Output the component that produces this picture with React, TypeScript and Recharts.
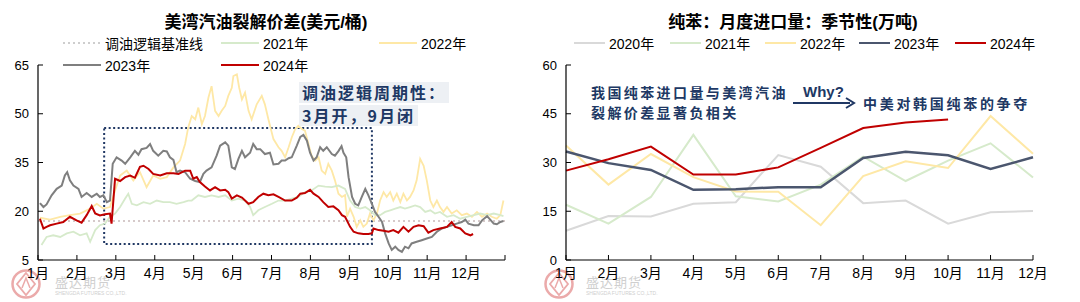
import React from 'react';
import { LineChart, Line, XAxis, YAxis, ReferenceLine, ReferenceArea } from 'recharts';

// ---------- Left chart: US Gulf gasoline crack spread (USD/bbl), x = month index ----------
const monthLabels = ['1月', '2月', '3月', '4月', '5月', '6月', '7月', '8月', '9月', '10月', '11月', '12月'];
const spreadTicksY = [5, 20, 35, 50, 65];
const baselineValue = 17;
const boxRange = { m1: 1.7, m2: 8.58, v1: 9.9, v2: 45.6 };

const spread2021: [number, number][] = [
  [0.09, 9.6], [0.22, 12.1], [0.39, 12.6], [0.57, 12.1], [0.74, 13.2], [0.91, 13.7], [1.08, 12.6], [1.25, 13.2],
  [1.34, 10.6], [1.47, 14.2], [1.59, 15.7], [1.72, 16.2], [1.85, 18.3], [1.98, 19.3], [2.11, 21.3], [2.24, 23.9],
  [2.32, 25.4], [2.41, 22.3], [2.54, 21.8], [2.71, 22.8], [2.88, 22.3], [3.05, 23.3], [3.22, 22.8], [3.39, 22.8],
  [3.56, 22.3], [3.74, 22.8], [3.86, 23.3], [3.95, 23.3], [4.12, 24.9], [4.29, 24.4], [4.46, 24.9], [4.64, 24.4],
  [4.81, 24.9], [4.98, 23.3], [5.15, 23.9], [5.32, 23.3], [5.45, 21.3], [5.53, 18.8], [5.66, 20.3], [5.83, 21.3],
  [6.01, 22.3], [6.18, 23.3], [6.35, 23.3], [6.52, 23.9], [6.69, 24.4], [6.86, 25.9], [7.03, 26.4], [7.21, 27.9],
  [7.38, 27.6], [7.55, 27.4], [7.72, 27.9], [7.89, 26.9], [8.02, 23.3], [8.15, 21.3], [8.28, 20.8], [8.41, 21.3],
  [8.53, 20.3], [8.66, 18.8], [8.79, 18.8], [8.92, 19.8], [9.05, 20.3], [9.18, 20.8], [9.31, 21.3], [9.43, 20.8],
  [9.56, 21.3], [9.69, 21.8], [9.82, 21.3], [9.95, 19.8], [10.08, 20.3], [10.2, 19.3], [10.33, 19.8], [10.51, 18.3],
  [10.68, 18.8], [10.85, 17.7], [11.02, 18.3], [11.2, 18.8], [11.36, 19.3], [11.54, 18.8], [11.71, 19.3], [11.88, 18.8],
  [11.96, 18.5],
];

const spread2022: [number, number][] = [
  [0.05, 18], [0.31, 17.4], [0.57, 18.3], [0.82, 18.8], [1.08, 19.3], [1.34, 20.8], [1.51, 22.3], [1.68, 20.8],
  [1.85, 21.3], [1.98, 26.4], [2.11, 31], [2.28, 32.5], [2.45, 29.5], [2.62, 32], [2.79, 27.4], [2.96, 31],
  [3.14, 30], [3.31, 30.5], [3.48, 33.5], [3.65, 35.6], [3.78, 40.7], [3.86, 45.8], [3.95, 49.3], [4.04, 48.3],
  [4.12, 51.9], [4.21, 46.8], [4.29, 49.3], [4.38, 55], [4.46, 58.5], [4.55, 50.9], [4.64, 49.3], [4.72, 50.9],
  [4.81, 52.4], [4.89, 55.5], [4.98, 58], [5.02, 61.6], [5.11, 62.1], [5.17, 58], [5.24, 54.4], [5.32, 56.5],
  [5.41, 50.9], [5.49, 48.3], [5.62, 52.9], [5.75, 55.5], [5.83, 52.9], [5.92, 48.3], [6.05, 42.2], [6.18, 39.7],
  [6.26, 38.6], [6.35, 36.6], [6.44, 39.7], [6.52, 42.7], [6.61, 45.3], [6.69, 46.3], [6.78, 45.3], [6.86, 44.8],
  [6.95, 40.7], [7.03, 37.1], [7.12, 35.6], [7.21, 36.6], [7.29, 32.5], [7.38, 31.5], [7.46, 34.6], [7.55, 32.5],
  [7.63, 29.5], [7.72, 25.4], [7.81, 24.4], [7.89, 25], [7.94, 18.3], [8.02, 20.8], [8.11, 18.3], [8.19, 15.2],
  [8.28, 17.2], [8.36, 15.2], [8.45, 16.2], [8.53, 19.3], [8.62, 17.2], [8.71, 19.3], [8.79, 23.3], [8.88, 25.9],
  [8.96, 24.4], [9.05, 25.9], [9.13, 23.3], [9.22, 25.4], [9.31, 22.8], [9.39, 25.4], [9.48, 23.3], [9.56, 24.4],
  [9.65, 26.4], [9.73, 29.5], [9.82, 36.1], [9.91, 34], [9.99, 29.5], [10.08, 23.3], [10.16, 21.3], [10.25, 23.3],
  [10.33, 21.3], [10.42, 19.8], [10.51, 21.3], [10.63, 19.3], [10.76, 20.3], [10.89, 18.8], [11.02, 19.3], [11.15, 18.3],
  [11.28, 19.8], [11.41, 18.3], [11.54, 19.3], [11.66, 18.3], [11.79, 17.7], [11.88, 18.8], [11.96, 23.3],
];

const spread2023: [number, number][] = [
  [0.05, 22.5], [0.14, 21.3], [0.22, 22.1], [0.35, 24.9], [0.48, 26.9], [0.61, 27.9], [0.69, 31], [0.75, 32],
  [0.82, 29.5], [0.91, 27.9], [1.04, 26.9], [1.12, 24.4], [1.25, 25.6], [1.38, 24.4], [1.51, 25.4], [1.59, 24.4],
  [1.68, 24.9], [1.77, 22.8], [1.85, 23.3], [1.92, 34.6], [2.02, 36.6], [2.15, 35.6], [2.24, 34.6], [2.37, 36.6],
  [2.49, 38.6], [2.58, 37.4], [2.66, 39.1], [2.79, 39.5], [2.88, 40.7], [2.96, 38.6], [3.09, 37.1], [3.22, 38.6],
  [3.31, 38.4], [3.39, 36.6], [3.48, 35.8], [3.56, 32], [3.65, 32.5], [3.78, 32], [3.91, 30], [4.04, 29.3],
  [4.16, 29], [4.25, 31.5], [4.33, 32.5], [4.46, 33.5], [4.59, 37.1], [4.68, 40.2], [4.81, 41.2], [4.89, 40.2],
  [4.98, 33.5], [5.06, 33], [5.15, 36.1], [5.24, 38.6], [5.32, 36.6], [5.45, 38], [5.53, 40.7], [5.62, 39.1],
  [5.71, 39.1], [5.83, 37.6], [5.96, 38], [6.05, 34.4], [6.18, 34.6], [6.26, 35.6], [6.35, 35.6], [6.44, 36.3],
  [6.52, 36.6], [6.65, 40.2], [6.74, 42.9], [6.82, 43.5], [6.91, 41.7], [6.99, 38], [7.08, 35.6], [7.16, 36.6],
  [7.25, 39.7], [7.33, 38.6], [7.42, 39.7], [7.55, 37.6], [7.63, 37.1], [7.72, 38.5], [7.8, 40], [7.85, 38],
  [7.92, 36.6], [7.98, 30.5], [8.07, 24.4], [8.15, 22.3], [8.23, 21.8], [8.32, 24.4], [8.41, 26.9], [8.49, 24.9],
  [8.58, 22.3], [8.66, 19.8], [8.75, 18.3], [8.84, 16.7], [8.92, 13.2], [9.01, 10.1], [9.09, 8.1], [9.18, 9.1],
  [9.26, 8.1], [9.35, 7.5], [9.43, 9.1], [9.52, 8.6], [9.6, 10.1], [9.73, 10.6], [9.86, 11.1], [9.99, 11.6],
  [10.12, 12.1], [10.25, 13.7], [10.38, 14.7], [10.51, 15.2], [10.63, 15.7], [10.76, 16.2], [10.89, 16.7], [10.98, 17.4],
  [11.06, 16.2], [11.2, 15.7], [11.32, 15.7], [11.41, 17.2], [11.54, 18.5], [11.62, 17.4], [11.71, 16.2], [11.79, 16],
  [11.88, 16.7], [11.96, 17],
];

const spread2024: [number, number][] = [
  [0.05, 17.7], [0.14, 14.7], [0.22, 15.2], [0.31, 15.7], [0.48, 16.2], [0.65, 16.7], [0.82, 18.3], [0.99, 17.2],
  [1.12, 16.5], [1.25, 18.8], [1.38, 21.6], [1.47, 19.3], [1.59, 18.7], [1.72, 19.1], [1.85, 19.3], [1.89, 16.2],
  [1.98, 30], [2.11, 29.3], [2.24, 30.5], [2.37, 31], [2.49, 30.3], [2.62, 33.7], [2.71, 34], [2.84, 33],
  [2.96, 31.5], [3.14, 31], [3.31, 31.7], [3.48, 31.7], [3.61, 31.5], [3.78, 32.5], [3.91, 32.5], [3.99, 30],
  [4.08, 30.5], [4.16, 29], [4.29, 27.6], [4.42, 26.4], [4.55, 27.4], [4.68, 26.4], [4.81, 26.6], [4.89, 25.9],
  [4.98, 23.9], [5.11, 24.9], [5.24, 24.2], [5.41, 22.3], [5.53, 22.8], [5.66, 24.4], [5.79, 25.4], [5.92, 24.9],
  [6.05, 25.2], [6.18, 24.4], [6.35, 23.3], [6.52, 23.3], [6.65, 24.2], [6.74, 25.4], [6.86, 25.6], [6.99, 26.6],
  [7.08, 25.4], [7.21, 24.4], [7.33, 22.8], [7.46, 21.3], [7.59, 21.5], [7.72, 20.3], [7.81, 18.8], [7.89, 18.3],
  [8.02, 15.2], [8.11, 13.7], [8.23, 13.2], [8.36, 13], [8.49, 13], [8.58, 13.2], [8.62, 14.7], [8.75, 14.2],
  [8.88, 14], [9.01, 13.7], [9.13, 14.2], [9.26, 13.4], [9.39, 15.2], [9.52, 13.7], [9.65, 15.2], [9.78, 15.7],
  [9.91, 15.4], [10.03, 13.4], [10.16, 14.2], [10.33, 14.7], [10.51, 15.2], [10.63, 16.7], [10.72, 15.2], [10.85, 14.7],
  [10.98, 13.2], [11.11, 12.6], [11.18, 13],
];

// ---------- Right chart: benzene monthly imports (10k t) ----------
const importMonths = ['1月', '2月', '3月', '4月', '5月', '6月', '7月', '8月', '9月', '10月', '11月', '12月'];
const importTicksY = [0, 15, 30, 45, 60];
const imp2020 = [9.0, 13.5, 13.4, 17.3, 17.8, 32.3, 28.7, 17.5, 18.3, 11.2, 14.7, 15.1];
const imp2021 = [17.0, 11.2, 19.4, 38.5, 19.6, 18.0, 23.2, 31.8, 24.3, 30.6, 35.9, 25.4];
const imp2022 = [35.2, 23.2, 32.6, 25.5, 21.1, 21.0, 10.7, 25.8, 30.4, 28.3, 44.3, 32.7];
const imp2023 = [33.4, 29.8, 27.7, 21.6, 21.8, 22.4, 22.4, 31.4, 33.3, 32.2, 28.0, 31.6];
const imp2024 = [27.5, 31.0, 34.9, 26.3, 26.3, 28.5, 34.5, 40.6, 42.3, 43.2, null, null];

const importData = importMonths.map((month, i) => ({
  month,
  y2020: imp2020[i],
  y2021: imp2021[i],
  y2022: imp2022[i],
  y2023: imp2023[i],
  y2024: imp2024[i],
}));

const toPts = (arr: [number, number][]) => arr.map(([m, v]) => ({ m, v }));

const FONT = "'Liberation Sans', Arial, 'Noto Sans CJK SC', sans-serif";
const NAVY = '#203864';

const C = {
  base: '#c9b9b9',
  g21: '#d6eacb',
  y22: '#fee8a6',
  g23: '#7f7f7f',
  r24: '#c00000',
  g20: '#d9d9d9',
  n23: '#4b566e',
};

function LegendItem({ x, y, color, label, dash, w = 38, sw = 2 }: any) {
  return (
    <div style={{ position: 'absolute', left: x, top: y - 10, height: 20, display: 'flex', alignItems: 'center', fontFamily: FONT, fontSize: 14, color: '#000', whiteSpace: 'nowrap' }}>
      <svg width={w} height={20} style={{ display: 'block' }}>
        <line x1={0} y1={10} x2={w} y2={10} stroke={color} strokeWidth={sw} strokeDasharray={dash} />
      </svg>
      <span style={{ marginLeft: 4 }}>{label}</span>
    </div>
  );
}

function Watermark({ cx, cy, tx }: any) {
  return (
    <>
      <svg style={{ position: 'absolute', left: cx - 16, top: cy - 16 }} width={32} height={32}>
        <circle cx={16} cy={16} r={13.5} fill="none" stroke="#ebaaaa" strokeWidth={2.5} />
        <path d="M16 5 L25 16 L16 27 L7 16 Z" fill="none" stroke="#ebaaaa" strokeWidth={1.8} />
        <path d="M12 20 L16 10 L20 20" fill="none" stroke="#ebaaaa" strokeWidth={1.5} />
      </svg>
      <div style={{ position: 'absolute', left: tx, top: cy - 12, fontFamily: "'Noto Sans CJK SC', sans-serif", fontSize: 13, color: '#cfcfcf', letterSpacing: 1 }}>盛达期货</div>
      <div style={{ position: 'absolute', left: tx, top: cy + 6, fontFamily: FONT, fontSize: 5, color: '#cfcfcf' }}>SHENGDA FUTURES CO.,LTD.</div>
    </>
  );
}

const tickStyle = { fill: '#000', fontSize: 14, fontFamily: FONT };
const ytickStyle = { fill: '#000', fontSize: 13, fontFamily: FONT };

function LeftChart() {
  return (
    <div style={{ position: 'absolute', left: 0, top: 0 }}>
      <LineChart width={520} height={302} margin={{ top: 65, right: 15, bottom: 12, left: 8 }}>
        <XAxis
          type="number"
          dataKey="m"
          domain={[0, 12]}
          ticks={[0, 1, 2, 3, 4, 5, 6, 7, 8, 9, 10, 11, 12]}
          tickFormatter={(t: number) => monthLabels[t] ?? ''}
          interval={0}
          height={30}
          tickSize={-5}
          tickMargin={13}
          axisLine={{ stroke: '#000', strokeWidth: 1.2 }}
          tickLine={{ stroke: '#000' }}
          tick={tickStyle}
        />
        <YAxis
          type="number"
          domain={[5, 65]}
          ticks={spreadTicksY}
          width={30}
          tickSize={-5}
          tickMargin={14}
          axisLine={{ stroke: '#000', strokeWidth: 1.2 }}
          tickLine={{ stroke: '#000' }}
          tick={ytickStyle}
        />
        <ReferenceLine y={baselineValue} stroke={C.base} strokeDasharray="2 3" strokeWidth={1.3} />
        <Line data={toPts(spread2022)} dataKey="v" stroke={C.y22} strokeWidth={1.8} dot={false} isAnimationActive={false} />
        <Line data={toPts(spread2021)} dataKey="v" stroke={C.g21} strokeWidth={1.8} dot={false} isAnimationActive={false} />
        <Line data={toPts(spread2023)} dataKey="v" stroke={C.g23} strokeWidth={2} dot={false} isAnimationActive={false} />
        <Line data={toPts(spread2024)} dataKey="v" stroke={C.r24} strokeWidth={2} dot={false} isAnimationActive={false} />
        <ReferenceArea x1={boxRange.m1} x2={boxRange.m2} y1={boxRange.v1} y2={boxRange.v2} fill="none" fillOpacity={0} stroke={NAVY} strokeWidth={2} strokeDasharray="2 2.5" />
      </LineChart>
    </div>
  );
}

function RightChart() {
  return (
    <div style={{ position: 'absolute', left: 530, top: 0 }}>
      <LineChart width={550} height={302} data={importData} margin={{ top: 65, right: 47, bottom: 12, left: 6 }}>
        <XAxis
          dataKey="month"
          interval={0}
          height={30}
          tickSize={-5}
          tickMargin={13}
          padding={{ left: 0, right: 0 }}
          axisLine={{ stroke: '#000', strokeWidth: 1.2 }}
          tickLine={{ stroke: '#000' }}
          tick={tickStyle}
        />
        <YAxis
          type="number"
          domain={[0, 60]}
          ticks={importTicksY}
          width={30}
          tickSize={-5}
          tickMargin={14}
          axisLine={{ stroke: '#000', strokeWidth: 1.2 }}
          tickLine={{ stroke: '#000' }}
          tick={ytickStyle}
        />
        <Line dataKey="y2020" stroke={C.g20} strokeWidth={2} dot={false} isAnimationActive={false} />
        <Line dataKey="y2021" stroke={C.g21} strokeWidth={2} dot={false} isAnimationActive={false} />
        <Line dataKey="y2022" stroke={C.y22} strokeWidth={2} dot={false} isAnimationActive={false} />
        <Line dataKey="y2023" stroke={C.n23} strokeWidth={2.5} dot={false} isAnimationActive={false} />
        <Line dataKey="y2024" stroke={C.r24} strokeWidth={2} dot={false} isAnimationActive={false} />
      </LineChart>
    </div>
  );
}

const titleStyle: React.CSSProperties = {
  position: 'absolute', top: 8, fontFamily: "'Liberation Sans', 'Noto Sans CJK SC', sans-serif", fontWeight: 'bold', fontSize: 17, color: '#000', whiteSpace: 'nowrap', transform: 'translateX(-50%)',
};

const noteStyle: React.CSSProperties = {
  position: 'absolute', fontFamily: "'Noto Sans CJK SC', sans-serif", color: NAVY, whiteSpace: 'nowrap', fontWeight: 'bold',
};

export default function App() {
  return (
    <div style={{ position: 'absolute', left: 0, top: 0, width: 1080, height: 302, background: '#fff', overflow: 'hidden' }}>
      <Watermark cx={26} cy={284} tx={55} />
      <Watermark cx={559} cy={284} tx={586} />
      <LeftChart />
      <RightChart />

      {/* titles */}
      <div style={{ ...titleStyle, left: 266 }}>美湾汽油裂解价差(美元/桶)</div>
      <div style={{ ...titleStyle, left: 793 }}>纯苯：月度进口量：季节性(万吨)</div>

      {/* left legend */}
      <LegendItem x={63} y={43} color="#bfbfbf" dash="2 3" label="调油逻辑基准线" w={38} sw={1.5} />
      <LegendItem x={221} y={43} color={C.g21} label="2021年" />
      <LegendItem x={379} y={43} color={C.y22} label="2022年" />
      <LegendItem x={63} y={65} color={C.g23} label="2023年" />
      <LegendItem x={221} y={65} color={C.r24} label="2024年" />

      {/* right legend */}
      <LegendItem x={574} y={43} color={C.g20} label="2020年" w={31} />
      <LegendItem x={670} y={43} color={C.g21} label="2021年" w={31} />
      <LegendItem x={765} y={43} color={C.y22} label="2022年" w={31} />
      <LegendItem x={859} y={43} color={C.n23} label="2023年" w={31} />
      <LegendItem x={955} y={43} color={C.r24} label="2024年" w={31} />

      {/* left annotation */}
      <div style={{ ...noteStyle, left: 299, top: 82, fontSize: 16, letterSpacing: 2, background: '#edf0f4', padding: '0 3px', lineHeight: '21px' }}>调油逻辑周期性：</div>
      <div style={{ ...noteStyle, left: 299, top: 105, fontSize: 16, letterSpacing: 2, background: '#edf0f4', padding: '0 3px', lineHeight: '21px' }}>3月开，9月闭</div>

      {/* right annotations */}
      <div style={{ ...noteStyle, left: 591, top: 82, fontSize: 14, letterSpacing: 2.4, lineHeight: '20px' }}>我国纯苯进口量与美湾汽油</div>
      <div style={{ ...noteStyle, left: 591, top: 102, fontSize: 14, letterSpacing: 2.4, lineHeight: '20px' }}>裂解价差显著负相关</div>
      <div style={{ ...noteStyle, left: 803, top: 82, fontSize: 15, fontFamily: FONT, lineHeight: '20px' }}>Why?</div>
      <svg style={{ position: 'absolute', left: 790, top: 95 }} width={70} height={16}>
        <line x1={3} y1={8} x2={60} y2={8} stroke={NAVY} strokeWidth={2} />
        <path d="M56 3 L64 8 L56 13" fill="none" stroke={NAVY} strokeWidth={2} />
      </svg>
      <div style={{ ...noteStyle, left: 863, top: 93, fontSize: 14, letterSpacing: 2.7, lineHeight: '20px' }}>中美对韩国纯苯的争夺</div>
    </div>
  );
}
